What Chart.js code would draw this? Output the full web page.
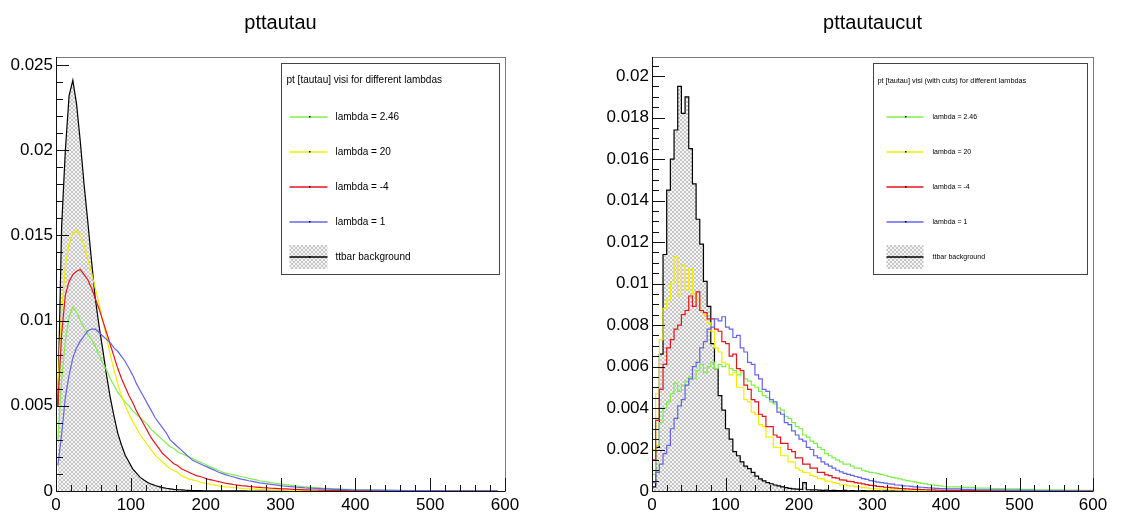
<!DOCTYPE html>
<html>
<head>
<meta charset="utf-8">
<script src="https://cdn.jsdelivr.net/npm/chart.js@4.4.1/dist/chart.umd.min.js"></script>
<style>
  body { margin: 0; background: #fff; }
  #wrap { position: relative; width: 1122px; height: 512px; }
  canvas { position: absolute; top: 0; }
</style>
</head>
<body>
<div id="wrap">
  <canvas id="pttautau" width="561" height="512" style="left:0"></canvas>
  <canvas id="pttautaucut" width="561" height="512" style="left:561px"></canvas>
</div>
<script>
// bins: 5 wide up to 400, then 20 wide up to 600
const binEdges = [];
for (let e = 0; e <= 400; e += 5) binEdges.push(e);
for (let e = 420; e <= 600; e += 20) binEdges.push(e);

const seriesLabels = ['lambda = 2.46', 'lambda = 20', 'lambda = -4', 'lambda = 1', 'ttbar background'];

// ---- pttautau (no cuts) ----
const ttbarAll = [
  0.0050, 0.0155, 0.0200, 0.0232, 0.0241, 0.0227, 0.0205, 0.0180, 0.0158, 0.0135,
  0.0113, 0.0097, 0.0083, 0.0068, 0.0055, 0.0044, 0.0034, 0.0027, 0.0021, 0.0017,
  0.0013, 0.00105, 0.0008, 0.00064, 0.0005, 0.0004, 0.00032, 0.00026, 0.0002, 0.00016,
  0.00013, 0.0001, 0.00008, 0.00007, 0.00005, 0.00004, 0.00003, 0.000025, 0.00002, 0.000015,
  0.00001, 0.00001, 0.000008, 0.000006, 0.000005, 0.000004, 0.000003, 0.000003, 0.000002, 0.000002,
  0.000002, 0.000001, 0.000001, 0.000001, 0.000001, 0.000001, 0, 0, 0, 0,
  0, 0, 0, 0, 0, 0, 0, 0, 0, 0,
  0, 0, 0, 0, 0, 0, 0, 0, 0, 0,
  0, 0, 0, 0, 0, 0, 0, 0, 0, 0
];
const lambda246All = [
  0.0030, 0.0065, 0.0088, 0.0102, 0.0108, 0.0105, 0.0100, 0.0096, 0.0092, 0.0089,
  0.0085, 0.0080, 0.0075, 0.0071, 0.0066, 0.0062, 0.0058, 0.0055, 0.0052, 0.0050,
  0.0047, 0.0045, 0.0043, 0.0041, 0.0039, 0.0036, 0.0034, 0.0032, 0.0030, 0.0028,
  0.0026, 0.0025, 0.0023, 0.0022, 0.0021, 0.0020, 0.0019, 0.0018, 0.0017, 0.0016,
  0.0015, 0.0014, 0.0013, 0.0012, 0.0011, 0.00105, 0.0010, 0.00095, 0.0009, 0.00085,
  0.0008, 0.00075, 0.0007, 0.00065, 0.0006, 0.00057, 0.00054, 0.0005, 0.00046, 0.00043,
  0.0004, 0.00037, 0.00034, 0.00031, 0.00029, 0.00027, 0.00025, 0.00023, 0.00021, 0.00019,
  0.00018, 0.00016, 0.00015, 0.00014, 0.00013, 0.00012, 0.00011, 0.0001, 0.00009, 0.00008,
  0.00007, 0.00005, 0.00004, 0.00003, 0.00003, 0.00002, 0.00002, 0.00001, 0.00001, 0.00001
];
const lambda20All = [
  0.0060, 0.0105, 0.0132, 0.0145, 0.0151, 0.0153, 0.0150, 0.0144, 0.0136, 0.0128,
  0.0119, 0.0110, 0.0100, 0.0090, 0.0080, 0.0071, 0.0063, 0.0056, 0.0050, 0.0045,
  0.0041, 0.0037, 0.0033, 0.0030, 0.0027, 0.0024, 0.0021, 0.0019, 0.0017, 0.0015,
  0.0013, 0.0012, 0.0011, 0.0009, 0.0008, 0.0007, 0.00065, 0.0006, 0.00053, 0.00048,
  0.00043, 0.00038, 0.00034, 0.0003, 0.00027, 0.00024, 0.00022, 0.0002, 0.00018, 0.00016,
  0.00014, 0.00013, 0.00012, 0.00011, 0.0001, 0.00009, 0.00008, 0.00007, 0.00006, 0.00006,
  0.00005, 0.00005, 0.00004, 0.00004, 0.00003, 0.00003, 0.00003, 0.00002, 0.00002, 0.00002,
  0.00002, 0.00001, 0.00001, 0.00001, 0.00001, 0.00001, 0.00001, 0.00001, 0.00001, 0.00001,
  0.00001, 0, 0, 0, 0, 0, 0, 0, 0, 0
];
const lambdaM4All = [
  0.0050, 0.0092, 0.0115, 0.0123, 0.0127, 0.0129, 0.0130, 0.0127, 0.0124, 0.0119,
  0.0113, 0.0107, 0.0100, 0.0093, 0.0086, 0.0079, 0.0072, 0.0066, 0.0061, 0.0056,
  0.0052, 0.0047, 0.0043, 0.0039, 0.0035, 0.0031, 0.0028, 0.0025, 0.0022, 0.0020,
  0.0018, 0.0016, 0.0015, 0.0013, 0.0012, 0.0011, 0.0010, 0.0009, 0.00085, 0.00078,
  0.0007, 0.00065, 0.0006, 0.00055, 0.0005, 0.00045, 0.00042, 0.00038, 0.00035, 0.00032,
  0.0003, 0.00027, 0.00025, 0.00023, 0.00021, 0.00019, 0.00018, 0.00016, 0.00015, 0.00014,
  0.00013, 0.00012, 0.00011, 0.0001, 0.00009, 0.00008, 0.00007, 0.00007, 0.00006, 0.00006,
  0.00005, 0.00005, 0.00004, 0.00004, 0.00004, 0.00003, 0.00003, 0.00003, 0.00002, 0.00002,
  0.00002, 0.00001, 0.00001, 0.00001, 0.00001, 0, 0, 0, 0, 0
];
const lambda1All = [
  0.0015, 0.0033, 0.0055, 0.0068, 0.0078, 0.0084, 0.0088, 0.0091, 0.0094, 0.0095,
  0.0095, 0.0093, 0.0091, 0.0089, 0.0087, 0.0084, 0.0082, 0.0079, 0.0076, 0.0072,
  0.0068, 0.0063, 0.0059, 0.0055, 0.0051, 0.0047, 0.0043, 0.0040, 0.0037, 0.0034,
  0.0030, 0.0028, 0.0026, 0.0024, 0.0022, 0.0020, 0.0018, 0.0017, 0.0016, 0.0015,
  0.0014, 0.0013, 0.0012, 0.0011, 0.00102, 0.00095, 0.00088, 0.00082, 0.00076, 0.0007,
  0.00065, 0.0006, 0.00056, 0.00052, 0.00048, 0.00045, 0.00042, 0.00039, 0.00036, 0.00033,
  0.0003, 0.00028, 0.00026, 0.00024, 0.00022, 0.0002, 0.00018, 0.00017, 0.00016, 0.00015,
  0.00014, 0.00013, 0.00012, 0.00011, 0.0001, 0.00009, 0.00008, 0.00008, 0.00007, 0.00006,
  0.00006, 0.00005, 0.00004, 0.00003, 0.00002, 0.00002, 0.00001, 0.00001, 0.00001, 0.00001
];

// ---- pttautaucut (with cuts) ----
const ttbarCut = [
  0.0002, 0.0021, 0.0066, 0.0114, 0.0145, 0.0160, 0.0174, 0.0195, 0.0182, 0.0190,
  0.0165, 0.0148, 0.0131, 0.0119, 0.0101, 0.0089, 0.0071, 0.0059, 0.0046, 0.0039,
  0.0030, 0.0025, 0.0019, 0.0017, 0.0014, 0.0012, 0.00108, 0.0009, 0.00072, 0.00058,
  0.00049, 0.0004, 0.00035, 0.00029, 0.00025, 0.0002, 0.00016, 0.00013, 0.0001, 0.00009,
  0.00008, 0.0004, 0.00006, 0.00005, 0.00006, 0.00004, 0.00003, 0.00004, 0.00002, 0.00003,
  0.00002, 0.00002, 0.00003, 0.00001, 0.00002, 0.00001, 0.00001, 0.00002, 0.00001, 0.00001,
  0.00001, 0.00001, 0, 0.00001, 0, 0.00001, 0, 0, 0.00001, 0,
  0, 0, 0, 0, 0, 0, 0, 0, 0, 0,
  0, 0, 0, 0, 0, 0, 0, 0, 0, 0
];
const lambda246Cut = [
  0.0008, 0.0022, 0.0033, 0.0040, 0.0043, 0.0047, 0.0052, 0.0048, 0.0051, 0.0053,
  0.0055, 0.0054, 0.0058, 0.0061, 0.0057, 0.0060, 0.0062, 0.0059, 0.0061, 0.0060,
  0.0061, 0.0059, 0.0058, 0.0056, 0.0057, 0.0054, 0.0053, 0.0051, 0.0050, 0.0048,
  0.0046, 0.0045, 0.0043, 0.0042, 0.0040, 0.0039, 0.0036, 0.0035, 0.0033, 0.0031,
  0.0030, 0.0027, 0.0026, 0.0024, 0.0023, 0.0021, 0.0020, 0.0018, 0.0017, 0.0016,
  0.0015, 0.0014, 0.0013, 0.0013, 0.0012, 0.0011, 0.0011, 0.0010, 0.00095, 0.0009,
  0.00088, 0.00084, 0.0008, 0.00076, 0.0007, 0.00066, 0.00062, 0.00058, 0.00054, 0.0005,
  0.00047, 0.00044, 0.0004, 0.00037, 0.00034, 0.00031, 0.00029, 0.00027, 0.00025, 0.00023,
  0.0002, 0.00017, 0.00014, 0.00012, 0.0001, 0.00008, 0.00006, 0.00005, 0.00004, 0.00003
];
const lambda20Cut = [
  0.0020, 0.0047, 0.0073, 0.0088, 0.0092, 0.0100, 0.0113, 0.0094, 0.0109, 0.0097,
  0.0107, 0.0095, 0.0092, 0.0087, 0.0085, 0.0081, 0.0077, 0.0069, 0.0067, 0.0062,
  0.0061, 0.0056, 0.0057, 0.0050, 0.0050, 0.0044, 0.0043, 0.0038, 0.0037, 0.0032,
  0.0031, 0.0026, 0.0026, 0.0021, 0.0021, 0.0017, 0.0017, 0.0014, 0.0014, 0.0011,
  0.0010, 0.0009, 0.00088, 0.00075, 0.0007, 0.0006, 0.00058, 0.00048, 0.00047, 0.0004,
  0.00037, 0.0003, 0.00031, 0.00025, 0.00025, 0.0002, 0.0002, 0.00016, 0.00015, 0.00012,
  0.00011, 0.0001, 0.00009, 0.00008, 0.00008, 0.00006, 0.00006, 0.00005, 0.00005, 0.00004,
  0.00004, 0.00003, 0.00003, 0.00003, 0.00002, 0.00002, 0.00002, 0.00002, 0.00001, 0.00001,
  0.00001, 0.00001, 0.00001, 0, 0, 0, 0, 0, 0, 0
];
const lambdaM4Cut = [
  0.0015, 0.0034, 0.0049, 0.0061, 0.0069, 0.0073, 0.0078, 0.0080, 0.0085, 0.0087,
  0.0094, 0.0089, 0.0096, 0.0087, 0.0086, 0.0083, 0.0083, 0.0078, 0.0077, 0.0072,
  0.0071, 0.0065, 0.0066, 0.0059, 0.0058, 0.0051, 0.0049, 0.0044, 0.0043, 0.0037,
  0.0036, 0.0031, 0.0031, 0.0027, 0.0026, 0.0023, 0.0023, 0.0020, 0.0019, 0.0016,
  0.0016, 0.0013, 0.0013, 0.0011, 0.0011, 0.0009, 0.0009, 0.00078, 0.00074, 0.00064,
  0.00062, 0.00054, 0.00052, 0.00046, 0.00045, 0.0004, 0.00038, 0.00034, 0.00031, 0.00027,
  0.00026, 0.00022, 0.00021, 0.00018, 0.00017, 0.00015, 0.00014, 0.00012, 0.00011, 0.0001,
  0.00009, 0.00008, 0.00008, 0.00007, 0.00006, 0.00005, 0.00005, 0.00004, 0.00004, 0.00003,
  0.00003, 0.00002, 0.00002, 0.00001, 0.00001, 0.00001, 0.00001, 0, 0, 0
];
const lambda1Cut = [
  0.0004, 0.0009, 0.0013, 0.0018, 0.0022, 0.0030, 0.0035, 0.0041, 0.0044, 0.0051,
  0.0054, 0.0060, 0.0062, 0.0069, 0.0072, 0.0078, 0.0079, 0.0083, 0.0082, 0.0084,
  0.0079, 0.0078, 0.0074, 0.0075, 0.0069, 0.0067, 0.0062, 0.0061, 0.0056, 0.0054,
  0.0049, 0.0048, 0.0044, 0.0043, 0.0038, 0.0037, 0.0033, 0.0032, 0.0029, 0.0027,
  0.0025, 0.0024, 0.0021, 0.0020, 0.0017, 0.0016, 0.0014, 0.0013, 0.0012, 0.0011,
  0.0010, 0.00092, 0.00085, 0.0008, 0.00075, 0.0007, 0.00066, 0.0006, 0.00056, 0.0005,
  0.00047, 0.00043, 0.0004, 0.00038, 0.00034, 0.00033, 0.00029, 0.00028, 0.00025, 0.00024,
  0.00022, 0.0002, 0.00019, 0.00018, 0.00016, 0.00015, 0.00014, 0.00013, 0.00012, 0.00011,
  0.0001, 0.00008, 0.00006, 0.00005, 0.00004, 0.00003, 0.00002, 0.00002, 0.00001, 0.00001
];

const FONT = "'Liberation Sans', Arial, Helvetica, sans-serif";
const colors = ['#80ee4c', '#f2ee00', '#e8141c', '#6464ec', '#000000'];

function hatchPattern() {
  var c = document.createElement('canvas');
  c.width = 4; c.height = 4;
  var g = c.getContext('2d');
  g.fillStyle = '#f5f5f5';
  g.fillRect(0, 0, 4, 4);
  g.fillStyle = '#c6c6c6';
  [[0, 0], [1, 1], [2, 2], [3, 3], [3, 0], [2, 1], [1, 2], [0, 3]].forEach(function (p) {
    g.fillRect(p[0], p[1], 1, 1);
  });
  return g.createPattern(c, 'repeat');
}
const hatch = hatchPattern();

// stepped: left-edge points + closing point; otherwise bin centres
function histPoints(values, stepped) {
  if (!stepped) {
    return values.map(function (v, i) { return { x: (binEdges[i] + binEdges[i + 1]) / 2, y: v }; });
  }
  var pts = values.map(function (v, i) { return { x: binEdges[i], y: v }; });
  pts.push({ x: binEdges[values.length], y: values[values.length - 1] });
  return pts;
}

// ROOT style frame with inward ticks
const rootFrame = {
  id: 'rootFrame',
  afterDatasetsDraw(chart, args, o) {
    var ctx = chart.ctx, ca = chart.chartArea, xs = chart.scales.x, ys = chart.scales.y;
    ctx.save();
    ctx.lineWidth = 1;
    ctx.strokeStyle = '#7a7a7a';
    ctx.strokeRect(Math.round(ca.left) + 0.5, Math.round(ca.top) + 0.5,
      Math.round(ca.right - ca.left), Math.round(ca.bottom - ca.top));
    ctx.strokeStyle = '#111';
    ctx.beginPath();
    ctx.moveTo(Math.round(ca.left) + 0.5, ca.top);
    ctx.lineTo(Math.round(ca.left) + 0.5, Math.round(ca.bottom) + 0.5);
    ctx.lineTo(ca.right, Math.round(ca.bottom) + 0.5);
    var n = Math.round((xs.max - xs.min) / o.xMinor);
    for (var i = 0; i <= n; i++) {
      var px = Math.round(xs.getPixelForValue(xs.min + i * o.xMinor)) + 0.5;
      var len = (i % o.xSub === 0) ? 13 : 6;
      ctx.moveTo(px, ca.bottom);
      ctx.lineTo(px, ca.bottom - len);
    }
    for (var j = 0; j * o.yMinor <= ys.max + 1e-12; j++) {
      var py = Math.round(ys.getPixelForValue(j * o.yMinor)) + 0.5;
      var l2 = (j % o.ySub === 0) ? 13 : 7;
      ctx.moveTo(ca.left, py);
      ctx.lineTo(ca.left + l2, py);
    }
    ctx.stroke();
    ctx.restore();
  }
};

// boxed legend in the top right corner
const rootLegend = {
  id: 'rootLegend',
  afterDraw(chart, args, o) {
    var ctx = chart.ctx, ca = chart.chartArea;
    var x0 = Math.round(ca.left + o.left) + 0.5, x1 = Math.round(ca.right - o.right) + 0.5;
    var y0 = Math.round(ca.top + o.top) + 0.5, y1 = y0 + o.height;
    ctx.save();
    ctx.fillStyle = '#fff';
    ctx.fillRect(x0, y0, x1 - x0, y1 - y0);
    ctx.strokeStyle = '#444';
    ctx.lineWidth = 1;
    ctx.strokeRect(x0, y0, x1 - x0, y1 - y0);
    ctx.fillStyle = '#000';
    ctx.textBaseline = 'middle';
    ctx.font = o.titleSize + 'px ' + FONT;
    ctx.fillText(o.title, x0 + o.titleX, y0 + 17);
    ctx.font = o.size + 'px ' + FONT;
    chart.data.datasets.forEach(function (ds, k) {
      var y = Math.round(y0 + o.rowStart + k * o.rowStep);
      var lx0 = x0 + o.lineX0, lx1 = x0 + o.lineX1;
      if (ds.fill) {
        ctx.fillStyle = ds.backgroundColor;
        ctx.fillRect(lx0, y - 12, lx1 - lx0, 24);
      }
      ctx.strokeStyle = ds.borderColor;
      ctx.lineWidth = 1.6;
      ctx.beginPath();
      ctx.moveTo(lx0, y);
      ctx.lineTo(lx1, y);
      ctx.stroke();
      ctx.fillStyle = '#000';
      ctx.fillRect(Math.round((lx0 + lx1) / 2), y - 1, 1.5, 1.5);
      ctx.fillText(ds.label, x0 + o.textX, y);
    });
    ctx.restore();
  }
};

function makeChart(id, title, series, cfg) {
  var datasets = series.map(function (vals, k) {
    var isBkg = k === 4;
    return {
      label: seriesLabels[k],
      data: histPoints(vals, cfg.stepped),
      borderColor: colors[k],
      backgroundColor: isBkg ? hatch : colors[k],
      borderWidth: 1.2,
      pointRadius: 0,
      stepped: cfg.stepped,
      fill: isBkg ? 'origin' : false,
      order: [4, 3, 2, 1, 5][k]
    };
  });
  return new Chart(document.getElementById(id).getContext('2d'), {
    type: 'line',
    data: { datasets: datasets },
    options: {
      responsive: false,
      animation: false,
      layout: { autoPadding: false, padding: { left: 0, right: cfg.padRight, top: 0, bottom: 0 } },
      plugins: {
        legend: { display: false },
        tooltip: { enabled: false },
        title: {
          display: true,
          fullSize: false,
          text: title,
          color: '#000',
          font: { family: FONT, size: 20, weight: 'normal' },
          padding: { top: 11, bottom: 22 }
        },
        rootFrame: { xMinor: 20, xSub: 5, yMinor: cfg.yMinor, ySub: cfg.ySub },
        rootLegend: cfg.legend
      },
      scales: {
        x: {
          type: 'linear',
          min: 0,
          max: 600,
          grid: { display: false, drawTicks: false },
          border: { display: false },
          ticks: { stepSize: 100, color: '#000', padding: 4, maxRotation: 0, autoSkip: false,
                   font: { family: FONT, size: 17 } },
          afterFit: function (s) { s.height = 21; s.paddingLeft = 0; s.paddingRight = 0; }
        },
        y: {
          type: 'linear',
          min: 0,
          max: cfg.yMax,
          grid: { display: false, drawTicks: false },
          border: { display: false },
          ticks: {
            stepSize: cfg.yStep,
            includeBounds: false,
            color: '#000',
            padding: 3,
            font: { family: FONT, size: 17 },
            callback: function (v) { return String(+v.toFixed(4)); }
          },
          afterFit: function (s) { s.width = cfg.axisWidth; s.paddingTop = 0; s.paddingBottom = 0; }
        }
      }
    },
    plugins: [rootFrame, rootLegend]
  });
}

makeChart('pttautau', 'pttautau',
  [lambda246All, lambda20All, lambdaM4All, lambda1All, ttbarAll], {
    stepped: false, axisWidth: 56, padRight: 56, yMax: 0.02547, yStep: 0.005, yMinor: 0.001, ySub: 5,
    legend: { left: 225, right: 6, top: 6, height: 211, title: 'pt [tautau] visi for different lambdas',
              titleSize: 10, size: 10, titleX: 5, textX: 54, lineX0: 8, lineX1: 46, rowStart: 53, rowStep: 35 }
  });

makeChart('pttautaucut', 'pttautaucut',
  [lambda246Cut, lambda20Cut, lambdaM4Cut, lambda1Cut, ttbarCut], {
    stepped: true, axisWidth: 91, padRight: 29, yMax: 0.02092, yStep: 0.002, yMinor: 0.0005, ySub: 4,
    legend: { left: 221, right: 6, top: 6, height: 211, title: 'pt [tautau] visi (with cuts) for different lambdas',
              titleSize: 7.3, size: 7, titleX: 4, textX: 59, lineX0: 13, lineX1: 50, rowStart: 53, rowStep: 35 }
  });
</script>
</body>
</html>
